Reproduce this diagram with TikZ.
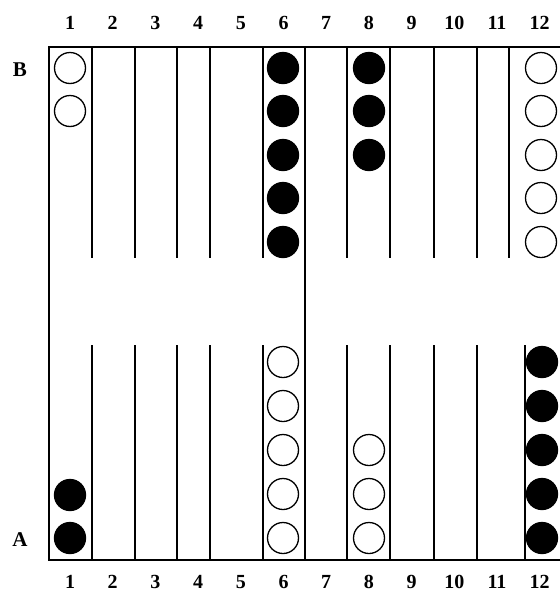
\documentclass[tikz,border=0pt]{standalone}
\usepackage{fontspec}
\setmainfont{Liberation Serif}
\usepackage{tikz}

\begin{document}
\begin{tikzpicture}[
  x=1pt, y=-1pt,
  whitestone/.style={draw,circle,minimum size=31pt,inner sep=0pt,line width=1.3pt,fill=white},
  blackstone/.style={draw,circle,minimum size=31pt,inner sep=0pt,line width=1.3pt,fill=black},
  pointnum/.style={font=\fontsize{20}{20}\selectfont\bfseries,inner sep=1pt},
  side/.style={font=\fontsize{21}{21}\selectfont\bfseries}
]
  \useasboundingbox (0,0) rectangle (560,595);

  % board frame and bar
  \draw[line width=1.6pt] (560,47) -- (49,47) -- (49,560) -- (560,560);
  \draw[line width=1.6pt] (305,47) -- (305,560);

  % point separators
  \foreach \x in {92,135,177,210,263,347,390,434,477,509}
    \draw[line width=1.6pt] (\x,47) -- (\x,258);
  \foreach \x in {92,135,177,210,263,347,390,434,477,525}
    \draw[line width=1.6pt] (\x,345) -- (\x,560);

  % point numbers
  \foreach \i in {1,...,12} {
    \node[pointnum] (t\i) at ({70+42.7*(\i-1)},23)  {\i};
    \node[pointnum] (b\i) at ({70+42.7*(\i-1)},582) {\i};
  }

  \node[side] (sB) at (20,70)  {B};
  \node[side] (sA) at (20,540) {A};

  % B side
  \foreach \y [count=\k] in {68,111}
    \node[whitestone] (w1\k) at (70,\y) {};
  \foreach \y [count=\k] in {68,111,155,198,242}
    \node[blackstone] (k6\k) at (283,\y) {};
  \foreach \y [count=\k] in {68,111,155}
    \node[blackstone] (k8\k) at (369,\y) {};
  \foreach \y [count=\k] in {68,111,155,198,242}
    \node[whitestone] (w12\k) at (541,\y) {};

  % A side
  \foreach \y [count=\k] in {495,538}
    \node[blackstone] (k1\k) at (70,\y) {};
  \foreach \y [count=\k] in {362,406,450,494,538}
    \node[whitestone] (w6\k) at (283,\y) {};
  \foreach \y [count=\k] in {450,494,538}
    \node[whitestone] (w8\k) at (369,\y) {};
  \foreach \y [count=\k] in {362,406,450,494,538}
    \node[blackstone] (k12\k) at (542,\y) {};
\end{tikzpicture}
\end{document}
